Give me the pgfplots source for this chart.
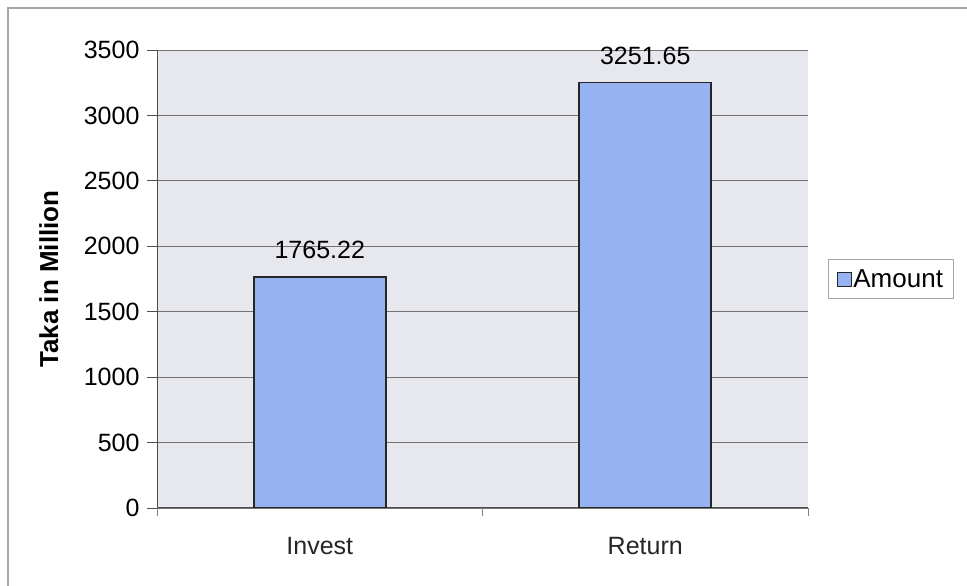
\documentclass[border=0pt]{standalone}
\usepackage{pgfplots}
\pgfplotsset{compat=1.18}
\usepackage{fontspec}
\setmainfont{Liberation Sans}
\definecolor{barblue}{HTML}{96B2F0}
\definecolor{plotbg}{HTML}{E7E8EE}
\begin{document}
\begin{tikzpicture}[x=1pt,y=1pt]
\useasboundingbox (0,0) rectangle (967,586);
\draw[gray!70, line width=1.2pt] (8,-2) -- (8,578) -- (975,578);
\begin{axis}[
  at={(157pt,78pt)}, anchor=south west,
  scale only axis, width=651pt, height=458pt,
  xmin=-0.5, xmax=1.5, ymin=0, ymax=3500,
  ytick={0,500,...,3500},
  xtick={0,1}, xticklabels={Invest,Return},
  minor xtick={-0.5,0.5,1.5},
  major x tick style={draw=none},
  minor x tick style={draw=gray, line width=0.8pt},
  minor tick length=8pt, major tick length=10pt,
  tick align=outside,
  axis x line*=bottom, axis y line*=left,
  axis line style={-, black!70, line width=1pt},
  y tick style={black!70, line width=0.8pt},
  ymajorgrids, grid style={black!55, line width=0.9pt},
  axis background/.style={fill=plotbg},
  ticklabel style={font=\fontsize{25}{28}\selectfont, text=black},
  xticklabel style={yshift=-16pt, text=black!85},
  yticklabel style={xshift=-4pt},
  /pgf/number format/assume math mode=true,
  /pgf/number format/1000 sep={},
  ylabel={\bfseries Taka in Million},
  ylabel style={font=\fontsize{26}{30}\selectfont, at={(axis description cs:-0.166,0.5)}, anchor=center},
  bar width=0.405,
  nodes near coords,
  nodes near coords style={font=\fontsize{25}{28}\selectfont, yshift=14pt, text=black,
     /pgf/number format/fixed, /pgf/number format/precision=2,
     /pgf/number format/fixed zerofill},
  legend style={at={(1.031,0.5)}, anchor=west, draw=gray!70, line width=0.8pt,
     font=\fontsize{26}{29}\selectfont, inner xsep=8pt, inner ysep=8pt},
  legend image code/.code={\draw[#1, line width=0.8pt] (0pt,-7pt) rectangle (14pt,7pt);},
]
\addplot[ybar, fill=barblue, draw=black!85, line width=1.8pt]
  coordinates {(0,1765.22) (1,3251.65)};
\legend{Amount}
\end{axis}
\end{tikzpicture}
\end{document}
